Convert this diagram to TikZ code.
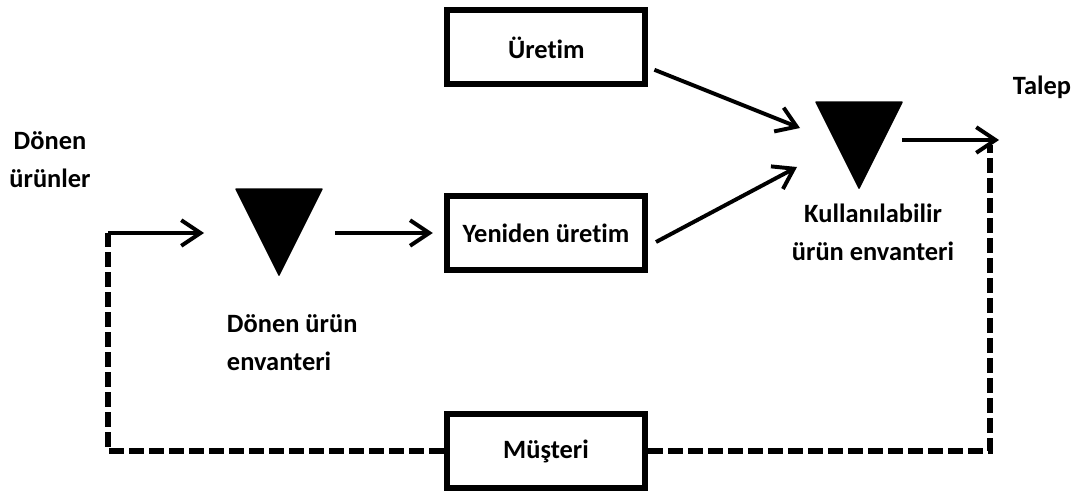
\documentclass[tikz,border=0pt]{standalone}
\usepackage{fontspec}
\setmainfont{Carlito}[Ligatures=NoCommon]
\usetikzlibrary{arrows.meta}
\usetikzlibrary{shapes.geometric}

\begin{document}
\begin{tikzpicture}[
    every node/.style={font=\bfseries\fontsize{18.8}{27}\selectfont},
    caja/.style={draw, line width=4.3pt, minimum width=4.95cm, minimum height=1.85cm, inner sep=0pt},
    inventario/.style={isosceles triangle, isosceles triangle stretches, shape border rotate=270,
        fill, draw, line width=1pt, line join=round, minimum width=2.15cm, minimum height=2.15cm, inner sep=0pt},
    flecha/.style={line width=2.8pt, -{Straight Barb[length=4.8mm, width=6.4mm]}},
    discontinua/.style={line width=3.6pt, dash pattern=on 0.38cm off 0.12cm}
]
    % Margenes del dibujo
    \useasboundingbox (0,0) rectangle (27.1,12.375);

    % Cajas de los procesos
    \node[caja] (uretim) at (13.66,11.19) {Üretim};
    \node[caja] (yeniden) at (13.65,6.55) {Yeniden üretim};
    \node[caja] (musteri) at (13.65,1.1) {Müşteri};

    % Inventarios (triangulos)
    \node[inventario, anchor=apex] (invDonen) at (6.975,5.45) {};
    \node[inventario, anchor=apex] (invKullan) at (21.475,7.625) {};

    % Puntos libres de las flechas
    \coordinate (vueltaI) at (2.7,6.55);
    \coordinate (donenGiris) at (5.1,6.55);
    \coordinate (donenCikis) at (8.375,6.55);
    \coordinate (kullanUst) at (20.0,9.175);
    \coordinate (kullanAlt) at (19.925,8.2);
    \coordinate (kullanCikis) at (22.55,8.875);
    \coordinate (talepUc) at (24.975,8.875);
    \coordinate (vueltaD) at (24.75,8.75);

    % Textos
    \node[align=center] (talep) at (26.05,10.2) {Talep};
    \node[align=center] (donenUrunler) at (1.25,8.375) {Dönen\\ürünler};
    \node[align=left, anchor=west] (donenEnv) at (5.55,3.8) {Dönen ürün\\envanteri};
    \node[align=center] (kullanEnv) at (21.825,6.575) {Kullanılabilir\\ürün envanteri};

    % Flujo de los productos
    \draw[flecha] (vueltaI) -- (donenGiris);
    \draw[flecha] (donenCikis) -- ([xshift=-0.28cm]yeniden.west);
    \draw[flecha] ([xshift=0.15cm, yshift=-0.56cm]uretim.east) -- (kullanUst);
    \draw[flecha] ([xshift=0.2cm, yshift=-0.225cm]yeniden.east) -- (kullanAlt);
    \draw[flecha] (kullanCikis) -- (talepUc);

    % Lineas discontinuas del cliente
    \draw[discontinua] (musteri.west) -| (vueltaI);
    \draw[discontinua] (musteri.east) -| (vueltaD);

\end{tikzpicture}
\end{document}
